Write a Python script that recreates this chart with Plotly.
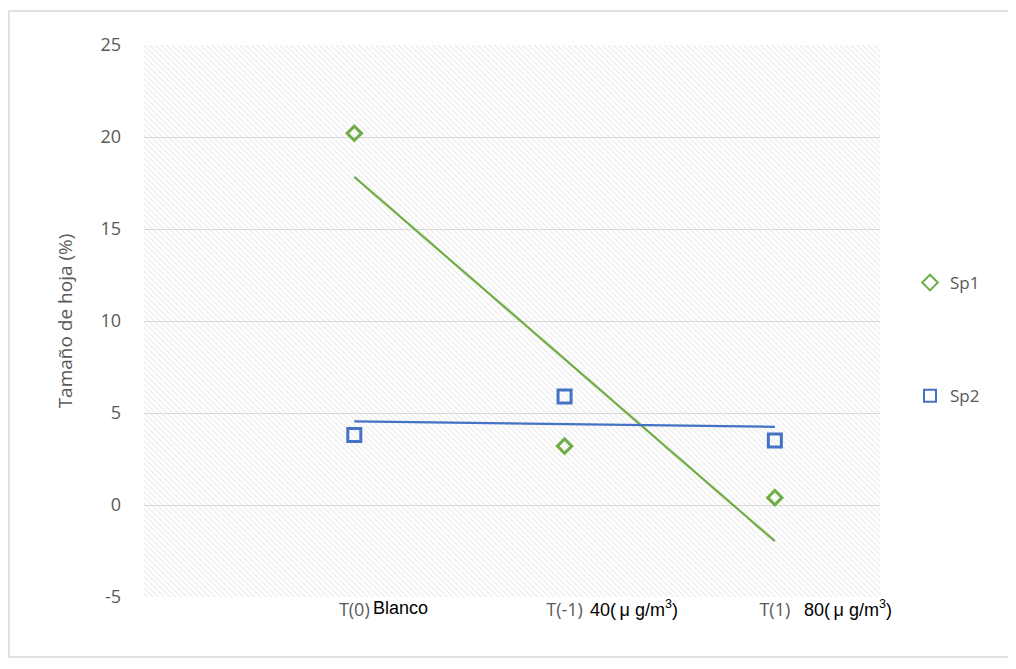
import numpy as np
import plotly.graph_objects as go

categories = ["T(0)", "T(-1)", "T(1)"]
category_notes = ["Blanco",
                  "40(\u2009\u03bc\u00a0g/m<sup>3</sup>)",
                  "80(\u2009\u03bc\u00a0g/m<sup>3</sup>)"]
x_pos = [1, 2, 3]
sp1 = [20.2, 3.2, 0.4]
sp2 = [3.8, 5.9, 3.5]
y_ticks = [-5, 0, 5, 10, 15, 20, 25]
y_tick_labels = ["-5", "0", "5", "10", "15", "20", "25"]

# styling
note_shifts = [17, 23, 27]
GREEN = "#70ad47"
BLUE = "#4472c4"
GRAY = "#595959"
FONT = "Open Sans"

x_range = [0, 3.5]
y_range = [-5, 25]

W, H = 1008, 661
ML, MR, MT, MB = 136, 136, 37, 72
PW, PH = W - ML - MR, H - MT - MB

fig = go.Figure()

# hatched plot-area background
fig.add_trace(go.Bar(
    x=[(x_range[0] + x_range[1]) / 2], y=[y_range[1] - y_range[0]], base=[y_range[0]],
    width=[x_range[1] - x_range[0]],
    marker=dict(color="rgba(0,0,0,0)", line=dict(width=0),
                pattern=dict(shape="\\", fgcolor="#d6d6d6", bgcolor="rgba(0,0,0,0)",
                             size=4, solidity=0.3)),
    hoverinfo="skip", showlegend=False,
))

xs = np.array(x_pos, dtype=float)
for name, ys, color, sym, size in [("Sp1", sp1, GREEN, "diamond-open", 11),
                                   ("Sp2", sp2, BLUE, "square-open", 13)]:
    k, b = np.polyfit(xs, np.array(ys), 1)
    fig.add_trace(go.Scatter(
        x=[xs[0], xs[-1]], y=[k * xs[0] + b, k * xs[-1] + b], mode="lines",
        line=dict(color=color, width=2.2), showlegend=False, hoverinfo="skip",
    ))
    fig.add_trace(go.Scatter(
        x=x_pos, y=ys, mode="markers", name=name, legendgroup=name,
        marker=dict(symbol=sym, size=size, color=color, line=dict(width=3, color=color)),
    ))

for xp, note, sh in zip(x_pos, category_notes, note_shifts):
    fig.add_annotation(x=xp, y=0, xref="x", yref="paper", yshift=-11, xshift=sh,
                       text=note, showarrow=False, xanchor="left", yanchor="middle",
                       font=dict(family="Liberation Sans", size=18, color="black"))

fig.update_layout(
    width=W, height=H,
    paper_bgcolor="white", plot_bgcolor="white",
    margin=dict(l=ML, r=MR, t=MT, b=MB),
    font=dict(family=FONT, color=GRAY, size=17),
    bargap=0,
    legend=dict(x=(902 - ML) / PW, xanchor="left", xref="paper", y=(H - MB - 257) / PH, yanchor="top",
                tracegroupgap=88, font=dict(size=17, color=GRAY), itemsizing="constant"),
    shapes=[dict(type="rect", xref="paper", yref="paper",
                 x0=(1 - ML) / PW, x1=(1012 - ML) / PW,
                 y0=(H - MB - 649) / PH, y1=(H - MB - 3) / PH,
                 line=dict(color="#d9d9d9", width=1.5), layer="below")],
)

fig.update_xaxes(range=x_range, tickvals=x_pos, ticktext=categories, showgrid=False,
                 zeroline=False, showline=False, ticks="", ticklabelstandoff=0,
                 tickfont=dict(size=18, color=GRAY))
fig.update_yaxes(range=y_range, tickvals=y_ticks, ticktext=y_tick_labels,
                 showgrid=True, gridcolor="#d9d9d9", gridwidth=1,
                 zeroline=False, showline=False, ticks="", ticklabelstandoff=22,
                 title=dict(text="Tamaño de hoja (%)", font=dict(size=19, color=GRAY), standoff=22),
                 tickfont=dict(size=18, color=GRAY))

fig.write_html("out.html")
